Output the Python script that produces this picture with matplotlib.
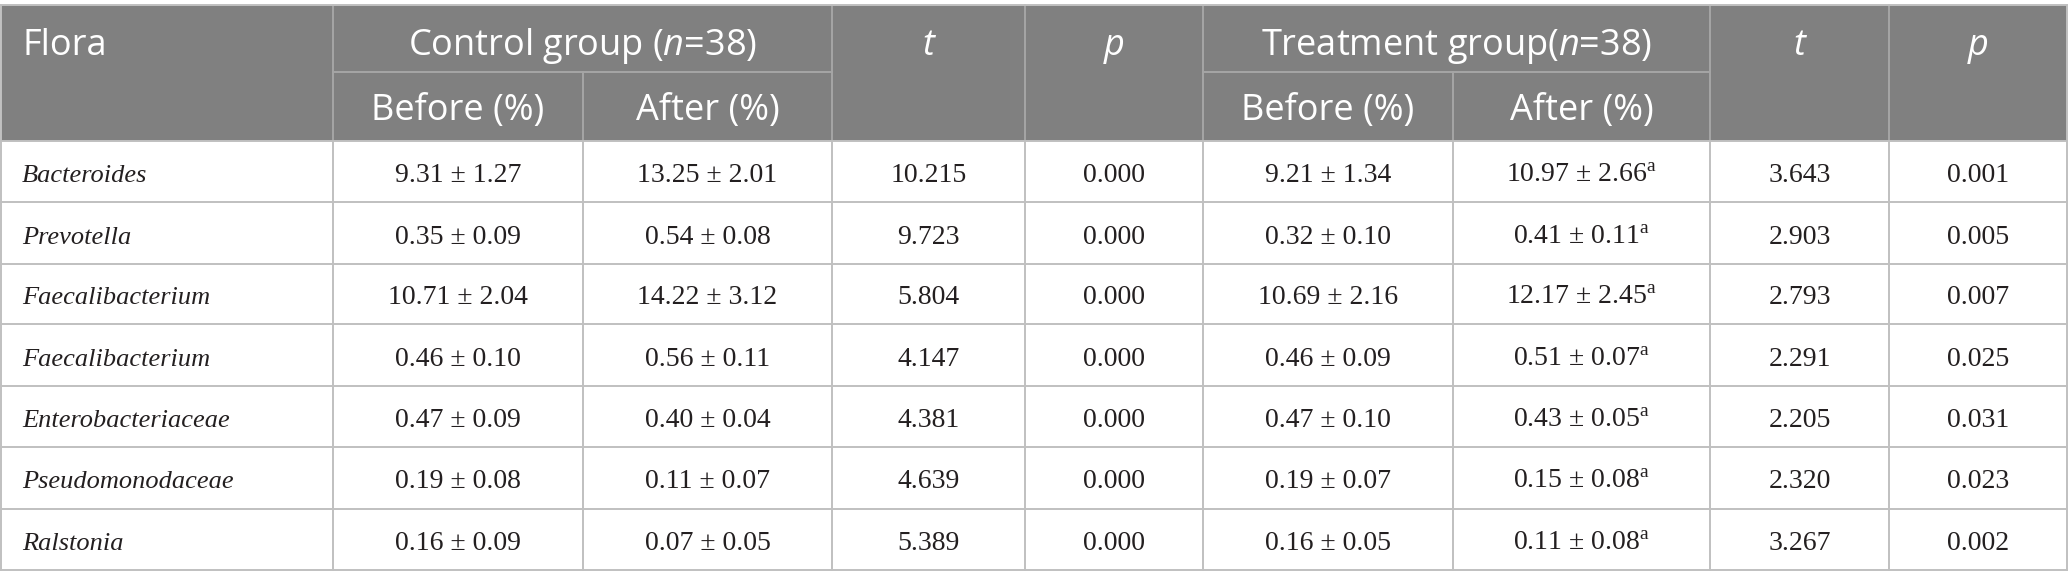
"""Flora table: control vs treatment, before/after percentages."""
import matplotlib
matplotlib.use("Agg")
import matplotlib.pyplot as plt
from matplotlib.patches import Rectangle

plt.rcParams["mathtext.fontset"] = "custom"
plt.rcParams["mathtext.rm"] = "Liberation Serif"
plt.rcParams["mathtext.it"] = "Open Sans:italic"

W, H = 2068, 586

flora = ["Bacteroides", "Prevotella", "Faecalibacterium", "Faecalibacterium",
         "Enterobacteriaceae", "Pseudomonodaceae", "Ralstonia"]
ctrl_before_mean = [9.31, 0.35, 10.71, 0.46, 0.47, 0.19, 0.16]
ctrl_before_sd = [1.27, 0.09, 2.04, 0.10, 0.09, 0.08, 0.09]
ctrl_after_mean = [13.25, 0.54, 14.22, 0.56, 0.40, 0.11, 0.07]
ctrl_after_sd = [2.01, 0.08, 3.12, 0.11, 0.04, 0.07, 0.05]
ctrl_t = [10.215, 9.723, 5.804, 4.147, 4.381, 4.639, 5.389]
ctrl_p = [0.000, 0.000, 0.000, 0.000, 0.000, 0.000, 0.000]
trt_before_mean = [9.21, 0.32, 10.69, 0.46, 0.47, 0.19, 0.16]
trt_before_sd = [1.34, 0.10, 2.16, 0.09, 0.10, 0.07, 0.05]
trt_after_mean = [10.97, 0.41, 12.17, 0.51, 0.43, 0.15, 0.11]
trt_after_sd = [2.66, 0.11, 2.45, 0.07, 0.05, 0.08, 0.08]
trt_t = [3.643, 2.903, 2.793, 2.291, 2.205, 2.320, 3.267]
trt_p = [0.001, 0.005, 0.007, 0.025, 0.031, 0.023, 0.002]

# layout in pixels
col_x = [1, 333, 583, 832, 1025, 1203, 1453, 1710, 1889, 2067]
row_y = [5, 72, 141, 202, 264, 324, 386, 447, 509, 570]

HEAD_BG = "#808080"
HEAD_LINE = "#a6a6a6"
GRID = "#c0c0c0"
TXT = "#231f20"
HEAD_FONT = "Open Sans"
BODY_FONT = "Liberation Serif"
HEAD_SIZE = 26
NAME_SIZE = 19
NUM_SIZE = 20


def pm(m, s):
    return f"{m:.2f} ± {s:.2f}"


fig = plt.figure(figsize=(W / 100, H / 100), dpi=100)
ax = fig.add_axes([0, 0, 1, 1])
ax.set_xlim(0, W)
ax.set_ylim(H, 0)
ax.axis("off")

# header block
ax.add_patch(Rectangle((col_x[0], row_y[0]), col_x[-1] - col_x[0], row_y[2] - row_y[0],
                       facecolor=HEAD_BG, edgecolor="none"))
for x in col_x[1:-1]:
    y0 = row_y[1] if x in (col_x[2], col_x[6]) else row_y[0]
    ax.plot([x, x], [y0, row_y[2]], color=HEAD_LINE, lw=1.4)
for a, b in [(col_x[1], col_x[3]), (col_x[5], col_x[7])]:
    ax.plot([a, b], [row_y[1], row_y[1]], color=HEAD_LINE, lw=1.4)

# body grid + outer frame
for y in row_y[2:]:
    ax.plot([col_x[0], col_x[-1]], [y, y], color=GRID, lw=1.4)
ax.plot([col_x[0], col_x[-1]], [row_y[0], row_y[0]], color=GRID, lw=1.4)
for x in col_x:
    y0 = row_y[0] if x in (col_x[0], col_x[-1]) else row_y[2]
    ax.plot([x, x], [y0, row_y[-1]], color=GRID, lw=1.4)


def mid(i, j=None):
    j = i + 1 if j is None else j
    return (col_x[i] + col_x[j]) / 2


hy1 = 55   # header baselines
hy2 = 120
hkw = dict(color="white", fontsize=HEAD_SIZE, family=HEAD_FONT, va="baseline")
ax.text(22, hy1, "Flora", ha="left", **hkw)
ax.text(mid(1, 3), hy1, "Control group ($n$=38)", ha="center", **hkw)
ax.text(mid(5, 7), hy1, "Treatment group($n$=38)", ha="center", **hkw)
for i in (3, 7):
    ax.text(mid(i), hy1, "t", ha="center", style="italic", **hkw)
for i in (4, 8):
    ax.text(mid(i), hy1, "p", ha="center", style="italic", **hkw)
for i in (1, 5):
    ax.text(mid(i), hy2, "Before (%)", ha="center", **hkw)
    ax.text(mid(i + 1), hy2, "After (%)", ha="center", **hkw)

bkw = dict(color=TXT, family=BODY_FONT, va="baseline")
for r in range(len(flora)):
    y = (row_y[r + 2] + row_y[r + 3]) / 2 + 10.5
    ax.text(22, y, flora[r], ha="left", style="italic", fontsize=NAME_SIZE, **bkw)
    cells = [
        pm(ctrl_before_mean[r], ctrl_before_sd[r]),
        pm(ctrl_after_mean[r], ctrl_after_sd[r]),
        f"{ctrl_t[r]:.3f}",
        f"{ctrl_p[r]:.3f}",
        pm(trt_before_mean[r], trt_before_sd[r]),
        pm(trt_after_mean[r], trt_after_sd[r]) + r"$^{\mathrm{a}}$",
        f"{trt_t[r]:.3f}",
        f"{trt_p[r]:.3f}",
    ]
    for c, s in enumerate(cells):
        ax.text(mid(c + 1), y, s, ha="center", fontsize=NUM_SIZE, **bkw)

fig.savefig("out.png", dpi=100, facecolor="white")
